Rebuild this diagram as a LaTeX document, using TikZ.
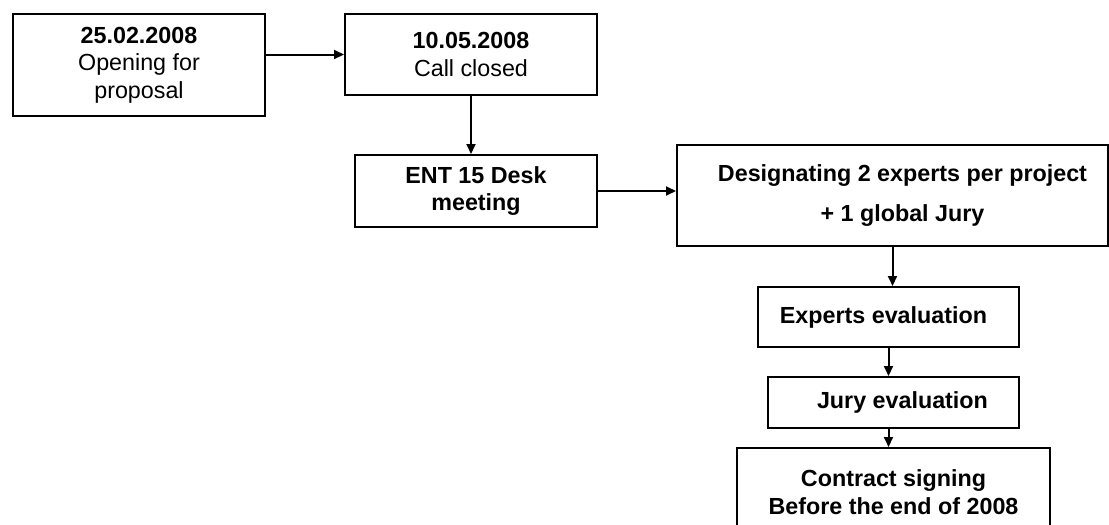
\documentclass[tikz,border=0pt]{standalone}
\usepackage{fontspec}
\setmainfont{Liberation Sans}
\usetikzlibrary{arrows.meta}
\begin{document}
\begin{tikzpicture}[x=1pt,y=-1pt,
  box/.style={draw=black, line width=2pt, fill=white, rectangle, inner sep=0pt, align=center,
    font=\fontsize{23.3}{27.5}\selectfont},
  arr/.style={draw=black, line width=2pt, -{Triangle[length=10pt,width=9pt]}}]
\clip (0,0) rectangle (1109,525);
\fill[white] (0,0) rectangle (1109,525);
\node[box, minimum width=252pt, minimum height=102pt] (b1) at (139,65)
  {\textbf{25.02.2008}\\Opening for\\proposal};
\node[box, minimum width=252pt, minimum height=81pt] (b2) at (471,54.5)
  {\textbf{10.05.2008}\\Call closed};
\node[box, minimum width=242pt, minimum height=72pt] (b3) at (476,191)
  {\textbf{ENT 15 Desk}\\\textbf{meeting}};
\node[box, minimum width=431pt, minimum height=101pt, font=\fontsize{23.3}{40}\selectfont] (b4) at (892.5,195.5)
  {\hspace{20pt}\textbf{Designating 2 experts per project}\\\hspace{20pt}\textbf{+ 1 global Jury}};
\node[box, minimum width=261pt, minimum height=60pt] (b5) at (888.5,317)
  {\textbf{Experts evaluation}\hspace{10pt}};
\node[box, minimum width=251pt, minimum height=51pt] (b6) at (893.5,402.5)
  {\hspace{18pt}\textbf{Jury evaluation}};
\node[box, minimum width=313pt, minimum height=88pt] (b7) at (893.5,492)
  {\textbf{Contract signing}\\\textbf{Before the end of 2008}};
\draw[arr] (b1.east |- b2.west) -- (b2.west);
\draw[arr] (b2.south) -- (b2.south |- b3.north);
\draw[arr] (b3.east) -- (b3.east -| b4.west);
\draw[arr] (b4.south) -- (b4.south |- b5.north);
\draw[arr] (b5.south) -- (b5.south |- b6.north);
\draw[arr] (b6.south -| b5.south) -- (b5.south |- b7.north);
\end{tikzpicture}
\end{document}
